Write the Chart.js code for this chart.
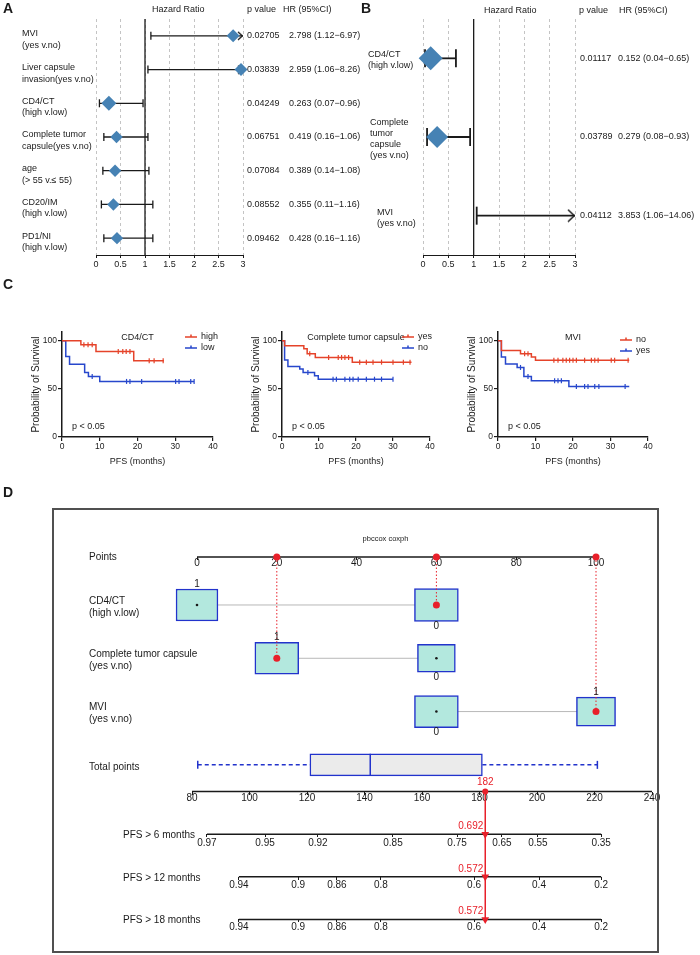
<!DOCTYPE html>
<html>
<head>
<meta charset="utf-8">
<title>Forest plots, survival curves and nomogram</title>
<script src="https://cdn.jsdelivr.net/npm/chart.js@4.4.1/dist/chart.umd.min.js"></script>
<style>
  html, body { margin: 0; padding: 0; background: #fff; }
  #page { position: relative; width: 700px; height: 955px; overflow: hidden; background: #fff; }
  #page canvas { position: absolute; }
</style>
</head>
<body>
<div id="page">
  <canvas id="forestA" width="365" height="272" style="left:0;top:0"></canvas>
  <canvas id="forestB" width="340" height="272" style="left:360px;top:0"></canvas>
  <canvas id="kmCd4" width="230" height="195" style="left:0;top:275px"></canvas>
  <canvas id="kmCtc" width="230" height="195" style="left:220px;top:275px"></canvas>
  <canvas id="kmMvi" width="230" height="195" style="left:436px;top:275px"></canvas>
  <canvas id="nomo" width="700" height="495" style="left:0;top:470px"></canvas>
</div>
<script>
// ---------- A: univariate Cox ----------
const aLabels = [['MVI', '(yes v.no)'], ['Liver capsule', 'invasion(yes v.no)'], ['CD4/CT', '(high v.low)'],
  ['Complete tumor', 'capsule(yes v.no)'], ['age', '(> 55 v.\u2264 55)'], ['CD20/IM', '(high v.low)'], ['PD1/NI', '(high v.low)']];
const aHR = [2.798, 2.959, 0.263, 0.419, 0.389, 0.355, 0.428];
const aLow = [1.12, 1.06, 0.07, 0.16, 0.14, 0.11, 0.16];
const aHigh = [6.97, 8.26, 0.96, 1.06, 1.08, 1.16, 1.16];
const aP = ['0.02705', '0.03839', '0.04249', '0.06751', '0.07084', '0.08552', '0.09462'];

// ---------- B: multivariate Cox ----------
const bLabels = [['CD4/CT', '(high v.low)'], ['Complete', 'tumor', 'capsule', '(yes v.no)'], ['MVI', '(yes v.no)']];
const bHR = [0.152, 0.279, 3.853];
const bLow = [0.04, 0.08, 1.06];
const bHigh = [0.65, 0.93, 14.06];
const bP = ['0.01117', '0.03789', '0.04112'];
const hrTicks = [0, 0.5, 1, 1.5, 2, 2.5, 3];

// ---------- C: Kaplan-Meier (months, % progression free) ----------
const cd4HighT = [0, 5, 9, 19, 27];
const cd4HighS = [100, 95.8, 88.8, 79.2, 79.2];
const cd4HighC = [5.8, 6.9, 8, 14.9, 16.1, 17, 18, 23.1, 24.4, 26.8];
const cd4LowT = [0, 1, 2, 6, 7, 10, 35];
const cd4LowS = [100, 83.5, 75.5, 67, 62.8, 57.7, 57.7];
const cd4LowC = [8, 17.1, 18, 21.1, 30.1, 31, 34.1, 35];

const ctcYesT = [0, 0.7, 5.9, 6.8, 9, 19, 35];
const ctcYesS = [100, 94.8, 91.5, 86.5, 82.6, 77.7, 77.7];
const ctcYesC = [7.5, 12.6, 15.2, 16.1, 17, 18, 21, 22.8, 24.6, 26.9, 30, 32.8, 34.6];
const ctcNoT = [0, 0.7, 1.6, 4.8, 5.7, 8.8, 9.8, 30];
const ctcNoS = [100, 80, 73.3, 70.5, 67, 63.5, 60, 60];
const ctcNoC = [7, 13.8, 14.7, 17, 18.3, 19.2, 20.6, 22.8, 25, 26.9, 30];

const mviNoT = [0, 0.9, 6, 8.9, 10, 35];
const mviNoS = [100, 89.8, 86.4, 83, 79.7, 79.7];
const mviNoC = [7.1, 8, 14.9, 16, 17.3, 18.2, 19.1, 20, 20.9, 23.1, 24.9, 25.8, 26.7, 30.2, 31.1, 34.7];
const mviYesT = [0, 0.9, 2, 5.1, 6.9, 8.9, 18.9, 35];
const mviYesS = [100, 83, 75.9, 72.2, 62.7, 58.3, 52.5, 52.5];
const mviYesC = [6, 8, 15.1, 16, 16.9, 20.9, 23.1, 24, 25.8, 26.9, 33.9];
const kmXTicks = [0, 10, 20, 30, 40];
const kmYTicks = [0, 50, 100];

// ---------- D: nomogram ----------
const nomoVars = [['CD4/CT', '(high v.low)'], ['Complete tumor capsule', '(yes v.no)'], ['MVI', '(yes v.no)']];
const nomoLevels = [['1', '0'], ['1', '0'], ['0', '1']];
const nomoPoints = [[0, 60], [20, 60], [60, 100]];
const patientLevel = [1, 0, 1];
const pointsTicks = [0, 20, 40, 60, 80, 100];
const totalTicks = [80, 100, 120, 140, 160, 180, 200, 220, 240];
const totalBox = [82, 121, 142, 181, 221]; // min, q1, median, q3, max
const patientTotal = 182;
const pfsNames = ['PFS > 6 months', 'PFS > 12 months', 'PFS > 18 months'];
const pfs6Labels = ['0.97', '0.95', '0.92', '0.85', '0.75', '0.65', '0.55', '0.35'];
const pfs6At = [85.2, 105.4, 123.8, 149.9, 172.2, 187.8, 200.3, 222.3];
const pfs12Labels = ['0.94', '0.9', '0.86', '0.8', '0.6', '0.4', '0.2'];
const pfs12At = [96.3, 116.9, 130.4, 145.7, 178.1, 200.7, 222.3];
const pfs18Labels = ['0.94', '0.9', '0.86', '0.8', '0.6', '0.4', '0.2'];
const pfs18At = [96.3, 116.9, 130.4, 145.7, 178.1, 200.7, 222.3];
const pfsPredicted = ['0.692', '0.572', '0.572'];

// box sizes of the nomogram levels (points wide, px high)
const boxWidth = [[10.5, 11], [11, 9.5], [11, 9.8]];
const boxHeight = [[32, 33], [32, 28], [32, 29]];

const FONT = '"Liberation Sans", Arial, Helvetica, sans-serif';
const INK = '#1a1a1a';
const DIAMOND = '#4682b4';
const KM_RED = '#e5432a';
const KM_BLUE = '#2747cc';
const RED = '#e8202a';
const BOX_FILL = '#b3e8de';
const BOX_EDGE = '#2233cc';
const HR_MAX = 3;

Chart.defaults.font.family = FONT;
Chart.defaults.color = INK;
Chart.defaults.animation = false;
Chart.defaults.responsive = false;
Chart.defaults.plugins.legend.display = false;
Chart.defaults.plugins.tooltip.enabled = false;

function put(ctx, text, x, y, size, o) {
  o = o || {};
  ctx.font = (o.bold ? 'bold ' : '') + size + 'px ' + FONT;
  ctx.fillStyle = o.color || INK;
  ctx.textAlign = o.align || 'left';
  ctx.textBaseline = 'middle';
  ctx.fillText(text, x, y);
}

function textLayer(draw) {
  return { id: 'textLayer', afterDraw(chart) { const ctx = chart.ctx; ctx.save(); draw(chart, ctx); ctx.restore(); } };
}

function fixedTicks(list) {
  return s => { s.ticks = list.map(v => ({ value: v })); };
}

function hrText(h, lo, hi) {
  return h.toFixed(3) + ' (' + lo.toFixed(2) + '\u2212' + hi.toFixed(2) + ')';
}

function chevron(w, h, lw) {
  const c = document.createElement('canvas');
  c.width = 2 * w + 2; c.height = h + 2;
  const g = c.getContext('2d');
  g.strokeStyle = INK; g.lineWidth = lw;
  g.beginPath(); g.moveTo(1, 1); g.lineTo(w + 1 - lw / 2, h / 2 + 1); g.lineTo(1, h + 1); g.stroke();
  return c;
}

function forestChart(id, f) {
  const n = f.hr.length;
  const ds = [{ data: [{ x: 1, y: -0.5 }, { x: 1, y: n - 0.5 }], showLine: true, borderColor: INK, borderWidth: 1.3, pointRadius: 0, order: 3 }];
  f.hr.forEach((h, i) => ds.push({
    data: [{ x: f.lo[i], y: i }, { x: Math.min(f.hi[i], HR_MAX), y: i, arrow: f.hi[i] > HR_MAX }],
    showLine: true, borderColor: INK, borderWidth: f.ciWidth,
    pointStyle: c => (c.raw && c.raw.arrow) ? f.chevron : 'line',
    rotation: c => (c.raw && c.raw.arrow) ? 0 : 90,
    pointRadius: f.capRadius, pointBorderColor: INK, pointBorderWidth: f.ciWidth, order: 2
  }));
  ds.push({
    data: f.hr.map((h, i) => ({ x: h, y: i })), pointStyle: 'rectRot', pointRadius: f.size,
    pointBackgroundColor: DIAMOND, pointBorderColor: DIAMOND, pointBorderWidth: 0,
    clip: { left: 20, right: 8, top: 20, bottom: 20 }, order: 1
  });
  return new Chart(document.getElementById(id), {
    type: 'scatter',
    data: { datasets: ds },
    options: {
      layout: { padding: f.pad },
      scales: {
        x: {
          type: 'linear', min: 0, max: HR_MAX, afterFit: s => { s.height = 17; },
          afterBuildTicks: fixedTicks(hrTicks),
          ticks: { font: { size: 9 }, padding: 1, color: INK, maxRotation: 0, autoSkip: false, callback: v => String(v) },
          grid: { color: '#c4c4c4', lineWidth: 1, tickColor: INK, tickLength: 3, tickWidth: 1 },
          border: { color: INK, width: 1, dash: [3, 3] }
        },
        y: { type: 'linear', min: -0.5, max: n - 0.5, reverse: true, display: false }
      }
    },
    plugins: [textLayer(f.text)]
  });
}

forestChart('forestA', {
  hr: aHR, lo: aLow, hi: aHigh, size: [6.5, 6.5, 7.5, 6.2, 6.2, 6.2, 6.2],
  ciWidth: 1.3, capRadius: 4, chevron: chevron(5, 8, 1.3),
  pad: { left: 96, right: 122, top: 19, bottom: 0 },
  text: (chart, ctx) => {
    const Y = v => chart.scales.y.getPixelForValue(v);
    put(ctx, 'A', 3, 9, 14, { bold: true });
    put(ctx, 'Hazard Ratio', 152, 10, 9);
    put(ctx, 'p value', 247, 10, 9);
    put(ctx, 'HR (95%CI)', 283, 10, 9);
    aLabels.forEach((lines, i) => {
      lines.forEach((t, k) => put(ctx, t, 22, Y(i) - 2 + k * 11.5, 9));
      put(ctx, aP[i], 247, Y(i), 9);
      put(ctx, hrText(aHR[i], aLow[i], aHigh[i]), 289, Y(i), 9);
    });
  }
});

const bLabelX = [8, 10, 17];
forestChart('forestB', {
  hr: bHR, lo: bLow, hi: bHigh, size: [12, 11, 11],
  ciWidth: 1.8, capRadius: 9, chevron: chevron(7, 12, 1.5),
  pad: { left: 63, right: 125, top: 19, bottom: 0 },
  text: (chart, ctx) => {
    const Y = v => chart.scales.y.getPixelForValue(v);
    put(ctx, 'B', 1, 9, 14, { bold: true });
    put(ctx, 'Hazard Ratio', 124, 11, 9);
    put(ctx, 'p value', 219, 11, 9);
    put(ctx, 'HR (95%CI)', 259, 11, 9);
    bLabels.forEach((lines, i) => {
      const y0 = Y(i) + 2 - (lines.length - 1) * 11.3 / 2;
      lines.forEach((t, k) => put(ctx, t, bLabelX[i], y0 + k * 11.3, 9));
      put(ctx, bP[i], 220, Y(i), 9);
      put(ctx, hrText(bHR[i], bLow[i], bHigh[i]), 258, Y(i), 9);
    });
  }
});

// ---------- C ----------
function survAt(times, surv, t) {
  let s = surv[0];
  times.forEach((ti, i) => { if (ti <= t) s = surv[i]; });
  return s;
}

function kmChart(id, k) {
  const ds = [];
  k.groups.forEach(g => {
    ds.push({ data: g.t.map((t, i) => ({ x: t, y: g.s[i] })), showLine: true, stepped: true,
      borderColor: g.color, borderWidth: 1.5, pointRadius: 0 });
    ds.push({ data: g.c.map(t => ({ x: t, y: survAt(g.t, g.s, t) })), pointStyle: 'line', rotation: 90,
      pointRadius: 2.5, pointBorderColor: g.color, pointBorderWidth: 1.2 });
  });
  return new Chart(document.getElementById(id), {
    type: 'scatter',
    data: { datasets: ds },
    options: {
      layout: { padding: { left: 0, right: k.padRight, top: 57, bottom: 3 } },
      scales: {
        x: {
          type: 'linear', min: 0, max: 40, bounds: 'data', afterFit: s => { s.height = 30; },
          afterBuildTicks: fixedTicks(kmXTicks),
          ticks: { font: { size: 8.5 }, padding: 1, color: INK, maxRotation: 0, callback: v => String(v) },
          grid: { drawOnChartArea: false, tickLength: 4, color: INK, lineWidth: 1.2 },
          border: { color: INK, width: 1.5 },
          title: { display: true, text: 'PFS (months)', font: { size: 9 }, padding: { top: 0, bottom: 0 }, color: INK }
        },
        y: {
          type: 'linear', min: 0, max: 109, bounds: 'data', afterFit: s => { s.width = 62; },
          afterBuildTicks: fixedTicks(kmYTicks),
          ticks: { font: { size: 8.5 }, padding: 1, color: INK, callback: v => String(v) },
          grid: { drawOnChartArea: false, tickLength: 4, color: INK, lineWidth: 1.2 },
          border: { color: INK, width: 1.5 },
          title: { display: true, text: 'Probability of Survival', font: { size: 10 }, padding: { top: 30, bottom: 0 }, color: INK }
        }
      }
    },
    plugins: [textLayer((chart, ctx) => {
      const ca = chart.chartArea;
      if (k.letter) put(ctx, k.letter, 3, 10, 14, { bold: true });
      put(ctx, k.title, (ca.left + ca.right) / 2, ca.top + 6, 9, { align: 'center' });
      k.groups.forEach((g, gi) => {
        const ly = ca.top + k.legendTop + gi * 11;
        ctx.strokeStyle = g.color; ctx.lineWidth = 1.5;
        ctx.beginPath();
        ctx.moveTo(ca.right - 28, ly); ctx.lineTo(ca.right - 16, ly);
        ctx.moveTo(ca.right - 22, ly - 2.5); ctx.lineTo(ca.right - 22, ly);
        ctx.stroke();
        put(ctx, g.name, ca.right - 12, ly, 9);
      });
      put(ctx, 'p < 0.05', ca.left + 10, ca.bottom - 10, 9);
    })]
  });
}

kmChart('kmCd4', { title: 'CD4/CT', letter: 'C', padRight: 17, legendTop: 5, groups: [
  { name: 'high', color: KM_RED, t: cd4HighT, s: cd4HighS, c: cd4HighC },
  { name: 'low', color: KM_BLUE, t: cd4LowT, s: cd4LowS, c: cd4LowC }] });
kmChart('kmCtc', { title: 'Complete tumor capsule', padRight: 20, legendTop: 5, groups: [
  { name: 'yes', color: KM_RED, t: ctcYesT, s: ctcYesS, c: ctcYesC },
  { name: 'no', color: KM_BLUE, t: ctcNoT, s: ctcNoS, c: ctcNoC }] });
kmChart('kmMvi', { title: 'MVI', padRight: 18, legendTop: 8, groups: [
  { name: 'no', color: KM_RED, t: mviNoT, s: mviNoS, c: mviNoC },
  { name: 'yes', color: KM_BLUE, t: mviYesT, s: mviYesS, c: mviYesC }] });

// ---------- D ----------
const CANVAS_H = 495;
const FRAME = { left: 53, right: 658, top: 39, bottom: 482 }; // canvas px
const ROW_PX = 53.3;
const POINTS_AXIS_Y = 87;
const rowAt = { points: 0, vars: [0.9, 1.9, 2.9], total: 3.9, totalAxis: 4.4, pfs: [5.2, 6.0, 6.8] };

function spanOf(v0, px0, v1, px1) {
  const k = (px1 - px0) / (v1 - v0);
  return { min: v0 - (px0 - FRAME.left) / k, max: v1 + (FRAME.right - px1) / k };
}
const ptsSpan = spanOf(0, 197, 100, 596);
const totSpan = spanOf(80, 192, 240, 652);

function nomoAxis(span, row, ticks, labels, pad) {
  return {
    type: 'linear', axis: 'x', min: span.min, max: span.max, bounds: 'data', position: { y: row },
    offset: false, beginAtZero: false,
    afterBuildTicks: fixedTicks(ticks),
    ticks: { autoSkip: false, maxRotation: 0, font: { size: 10 }, padding: pad, color: INK,
      callback: (v, i) => labels ? labels[i] : String(v) },
    grid: { drawOnChartArea: false, drawTicks: true, tickLength: 3, color: INK, lineWidth: 1, offset: false },
    border: { display: false }
  };
}

function seg(axis, pts, color, width, extra) {
  return Object.assign({ xAxisID: axis, yAxisID: 'y', data: pts, showLine: true, borderColor: color,
    borderWidth: width, pointRadius: 0 }, extra || {});
}
function box(axis, lo, hi, row, h, fill, order) {
  return { type: 'bar', indexAxis: 'y', xAxisID: axis, yAxisID: 'y', data: [{ x: [lo, hi], y: row }],
    backgroundColor: fill, borderColor: BOX_EDGE, borderWidth: 1.5, borderSkipped: false,
    barThickness: h, grouped: false, order: order };
}

const nomoDs = [];
nomoDs.push(seg('pts', [{ x: pointsTicks[0], y: rowAt.points }, { x: pointsTicks[pointsTicks.length - 1], y: rowAt.points }], INK, 1.5, { order: 4 }));
nomoVars.forEach((v, i) => {
  const r = rowAt.vars[i], p = nomoPoints[i], sel = patientLevel[i];
  nomoDs.push(seg('pts', [{ x: p[0], y: r }, { x: p[1], y: r }], '#b8b8b8', 1, { order: 10 }));
  p.forEach((pv, j) => nomoDs.push(box('pts', pv - boxWidth[i][j] / 2, pv + boxWidth[i][j] / 2, r, boxHeight[i][j], BOX_FILL, 6)));
  nomoDs.push({ xAxisID: 'pts', yAxisID: 'y', data: p.filter((_, j) => j !== sel).map(pv => ({ x: pv, y: r })),
    pointRadius: 1.3, pointBackgroundColor: INK, pointBorderWidth: 0, order: 1 });
  nomoDs.push(seg('pts', [{ x: p[sel], y: rowAt.points }, { x: p[sel], y: r }], RED, 1, { borderDash: [1.5, 2], order: 2 }));
  nomoDs.push({ xAxisID: 'pts', yAxisID: 'y', data: [{ x: p[sel], y: rowAt.points }, { x: p[sel], y: r }],
    pointRadius: 3.5, pointBackgroundColor: RED, pointBorderWidth: 0, order: 0 });
});

const tb = totalBox, tr = rowAt.total;
nomoDs.push(box('tot', tb[1], tb[3], tr, 22, '#ebebeb', 6));
nomoDs.push({ xAxisID: 'tot', yAxisID: 'y', data: [{ x: tb[2], y: tr }], pointStyle: 'line', rotation: 90,
  pointRadius: 11, pointBorderColor: BOX_EDGE, pointBorderWidth: 1.5, order: 1 });
nomoDs.push(seg('tot', [{ x: tb[0], y: tr }, { x: tb[1], y: tr }], BOX_EDGE, 1.5,
  { borderDash: [4, 3], pointStyle: 'line', rotation: 90, pointRadius: [4, 0], pointBorderColor: BOX_EDGE, pointBorderWidth: 1.5, order: 3 }));
nomoDs.push(seg('tot', [{ x: tb[3], y: tr }, { x: tb[4], y: tr }], BOX_EDGE, 1.5,
  { borderDash: [4, 3], pointStyle: 'line', rotation: 90, pointRadius: [0, 4], pointBorderColor: BOX_EDGE, pointBorderWidth: 1.5, order: 3 }));
nomoDs.push(seg('tot', [{ x: totalTicks[0], y: rowAt.totalAxis }, { x: totalTicks[totalTicks.length - 1], y: rowAt.totalAxis }], INK, 1.5, { order: 4 }));

const pfsAxes = [{ id: 'pfs6', at: pfs6At, labels: pfs6Labels }, { id: 'pfs12', at: pfs12At, labels: pfs12Labels },
  { id: 'pfs18', at: pfs18At, labels: pfs18Labels }];
pfsAxes.forEach((a, k) => nomoDs.push(seg(a.id, [{ x: a.at[0], y: rowAt.pfs[k] }, { x: a.at[a.at.length - 1], y: rowAt.pfs[k] }], INK, 1.5, { order: 4 })));

nomoDs.push(seg('tot', [{ x: patientTotal, y: rowAt.totalAxis }, { x: patientTotal, y: rowAt.pfs[2] }], RED, 1.5, { order: 1 }));
nomoDs.push({ xAxisID: 'tot', yAxisID: 'y', data: rowAt.pfs.map(r => ({ x: patientTotal, y: r })), pointStyle: 'triangle',
  rotation: 180, pointRadius: 4.5, pointBackgroundColor: RED, pointBorderColor: RED, pointBorderWidth: 0, order: 0 });
nomoDs.push({ xAxisID: 'tot', yAxisID: 'y', data: [{ x: patientTotal, y: rowAt.totalAxis }], pointRadius: 3,
  pointBackgroundColor: RED, pointBorderWidth: 0, order: 0 });

new Chart(document.getElementById('nomo'), {
  type: 'scatter',
  data: { datasets: nomoDs },
  options: {
    layout: { padding: { left: FRAME.left, right: 700 - FRAME.right, top: FRAME.top, bottom: CANVAS_H - FRAME.bottom } },
    scales: {
      y: { type: 'linear', axis: 'y', reverse: true, display: false, offset: false, bounds: 'data', grid: { offset: false },
        min: -(POINTS_AXIS_Y - FRAME.top) / ROW_PX, max: (FRAME.bottom - POINTS_AXIS_Y) / ROW_PX },
      pts: nomoAxis(ptsSpan, rowAt.points, pointsTicks, null, -3),
      tot: nomoAxis(totSpan, rowAt.totalAxis, totalTicks, null, -2),
      pfs6: nomoAxis(totSpan, rowAt.pfs[0], pfs6At, pfs6Labels, 0),
      pfs12: nomoAxis(totSpan, rowAt.pfs[1], pfs12At, pfs12Labels, -1),
      pfs18: nomoAxis(totSpan, rowAt.pfs[2], pfs18At, pfs18Labels, -1)
    }
  },
  plugins: [textLayer((chart, ctx) => {
    const ca = chart.chartArea;
    const Y = v => chart.scales.y.getPixelForValue(v);
    const PX = v => chart.scales.pts.getPixelForValue(v);
    const TX = v => chart.scales.tot.getPixelForValue(v);
    ctx.strokeStyle = '#505050'; ctx.lineWidth = 2;
    ctx.strokeRect(ca.left, ca.top, ca.right - ca.left, ca.bottom - ca.top);
    put(ctx, 'D', 3, 23, 14, { bold: true });
    put(ctx, 'pbccox coxph', (ca.left + ca.right) / 2 + 30, ca.top + 30, 7.5, { align: 'center' });
    put(ctx, 'Points', 89, Y(rowAt.points), 10);
    nomoVars.forEach((lines, i) => {
      const r = Y(rowAt.vars[i]);
      put(ctx, lines[0], 89, r - 4, 10);
      put(ctx, lines[1], 89, r + 8, 10);
      nomoLevels[i].forEach((lv, j) => {
        const off = boxHeight[i][j] / 2 + 5;
        put(ctx, lv, PX(nomoPoints[i][j]), lv === '1' ? r - off : r + off, 10, { align: 'center' });
      });
    });
    put(ctx, 'Total points', 89, Y(rowAt.total) + 2, 10);
    pfsNames.forEach((t, k) => {
      put(ctx, t, 123, Y(rowAt.pfs[k]) + 1, 10);
      put(ctx, pfsPredicted[k], TX(patientTotal) - 2, Y(rowAt.pfs[k]) - 8, 10, { align: 'right', color: RED });
    });
    put(ctx, String(patientTotal), TX(patientTotal), Y(rowAt.totalAxis) - 9, 10, { align: 'center', color: RED });
  })]
});
</script>
</body>
</html>
